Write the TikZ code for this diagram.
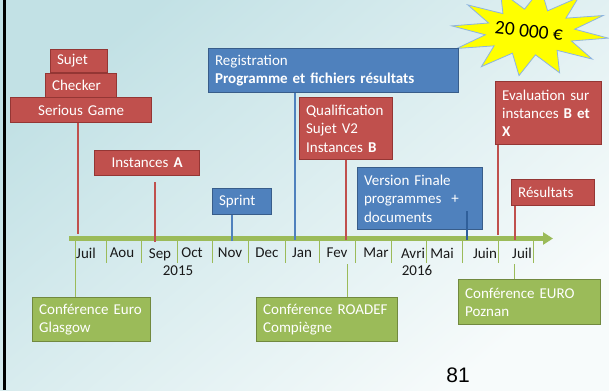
\documentclass[tikz,border=0pt]{standalone}
\usepackage{fontspec}
\setmainfont{Carlito}
\newfontfamily\numfont{Liberation Sans}
\usetikzlibrary{arrows.meta}
\definecolor{redF}{HTML}{C0504D}
\definecolor{redB}{HTML}{943634}
\definecolor{blueF}{HTML}{4F81BD}
\definecolor{blueB}{HTML}{385D8A}
\definecolor{greenF}{HTML}{9BBB59}
\definecolor{greenB}{HTML}{71893F}
\definecolor{bgA}{HTML}{C2E1E5}
\definecolor{bgB}{HTML}{F7FBFB}
\definecolor{starY}{HTML}{FFFF00}
\definecolor{starB}{HTML}{8DB4E2}
\definecolor{vfline}{HTML}{2F5F9A}
\begin{document}
\begin{tikzpicture}[x=1pt,y=-1pt,
  box/.style={anchor=north west, line width=1.2pt, text=white,
    font=\fontsize{15}{18.3}\selectfont, inner xsep=6.5pt, inner ysep=0pt, align=left},
  redbox/.style={box, draw=redB, fill=redF},
  bluebox/.style={box, draw=blueB, fill=blueF},
  greenbox/.style={box, draw=greenB, fill=greenF},
  redline/.style={draw=redF, line width=2pt},
  blueline/.style={draw=blueF, line width=2pt},
  greenline/.style={draw=greenF, line width=1pt},
  month/.style={font=\fontsize{15}{18}\selectfont, text=black!90, inner sep=0pt}
]
\useasboundingbox (0,0) rectangle (609,390);
\shade[shading=axis, top color=bgA, bottom color=bgB, shading angle=40] (0,0) rectangle (609,390);
\fill[black] (3.3,0) rectangle (6,390);

% star
\begin{scope}
\clip (0,0) rectangle (609,390);
\draw[fill=starY, draw=starB, line width=0.8pt]
  ({530+79*cos(8)},{32+44*sin(8)})
  \foreach \k in {1,...,23}{
    -- ({530+(mod(\k,2)==0 ? 79 : 45)*cos(\k*15+8)},{32+(mod(\k,2)==0 ? 44 : 23)*sin(\k*15+8)})
  } -- cycle;
\end{scope}
\node[font=\fontsize{19.5}{22}\selectfont, rotate=-6, inner sep=0pt] (prize) at (529,31) {20 000 €};

% axis
\coordinate (axL) at (69,238.5);
\coordinate (axR) at (553,238.5);
\draw[draw=greenF, line width=5pt, -{Triangle[length=10pt,width=12pt]}] (axL) -- (axR);

% separators
\foreach \x in {75,106,141,177,212,248,285,319,355,391,426,462,498,533}{
  \draw[greenline] (\x,240) -- (\x,263);
}

% months
\foreach \x/\m in {86/Juil,122/Aou,192/Oct,230/Nov,267/Dec,302/Jan,337/Fev,376/Mar,413/Avri,442/Mai,485/Juin,522/Juil}{
  \node[month] at (\x,253) {\m};
}
\node[month] (sep) at (160,255) {Sep};
\node[month] (y15) at (178,271) {2015};
\node[month] (y16) at (417,270) {2016};

% boxes
\node[redbox, text width=44pt, minimum height=23pt] (sujet) at (50,49) {Sujet};
\node[redbox, text width=58pt, minimum height=24pt] (checker) at (45,73) {Checker};
\node[redbox, text width=128pt, minimum height=25pt, align=center] (sg) at (10,97) {Serious Game};
\node[redbox, text width=92pt, minimum height=25pt, align=center] (ia) at (94,150) {Instances \textbf{A}};
\node[bluebox, text width=237pt, minimum height=44pt] (reg) at (208,48) {Registration\\\textbf{Programme et fichiers résultats}};
\node[redbox, text width=80pt, minimum height=62pt] (qual) at (299,97) {Qualification\\Sujet V2\\Instances \textbf{B}};
\node[bluebox, text width=46pt, minimum height=26pt] (sprint) at (212,188) {Sprint};
\node[bluebox, text width=112pt, minimum height=62pt] (vf) at (357,167) {Version Finale\\programmes~~+\\documents};
\node[redbox, text width=93pt, minimum height=63pt] (eval) at (495,81) {Evaluation sur\\instances \textbf{B et}\\\textbf{X}};
\node[redbox, text width=70pt, minimum height=26pt] (res) at (511,179) {Résultats};
\node[greenbox, text width=105pt, minimum height=44pt] (glas) at (32,297) {Conférence Euro\\Glasgow};
\node[greenbox, text width=128pt, minimum height=44pt] (roadef) at (256,297) {Conférence ROADEF\\Compiègne};
\node[greenbox, text width=129pt, minimum height=45pt] (poz) at (458,279) {Conférence EURO\\Poznan};

% connectors
\coordinate (tSG) at (78,234);
\draw[redline] (sg.south -| tSG) -- (tSG);
\coordinate (tIAa) at (155,182);
\coordinate (tIAb) at (155,242);
\draw[redline] (tIAa) -- (tIAb);
\coordinate (tREG) at (295,240);
\draw[blueline] (reg.south -| tREG) -- (tREG);
\coordinate (tQ) at (346,240);
\draw[redline] (qual.south -| tQ) -- (tQ);
\coordinate (tSP) at (232,241);
\draw[blueline] (sprint.south -| tSP) -- (tSP);
\coordinate (tVFa) at (467,211);
\coordinate (tVFb) at (467,240);
\draw[draw=vfline, line width=2pt] (tVFa) -- (tVFb);
\coordinate (tEV) at (498,235);
\draw[redline] (eval.south -| tEV) -- (tEV);
\coordinate (tRES) at (515,240);
\draw[redline] (res.south -| tRES) -- (tRES);
\coordinate (tGL) at (75,240);
\draw[greenline] (tGL) -- (glas.north -| tGL);
\coordinate (tRO) at (347,264);
\draw[greenline] (tRO) -- (roadef.north -| tRO);
\coordinate (tPO) at (514,264);
\draw[greenline] (tPO) -- (poz.north -| tPO);

\node[font=\numfont\fontsize{21}{24}\selectfont, inner sep=0pt] (page) at (458,375) {81};
\end{tikzpicture}
\end{document}
